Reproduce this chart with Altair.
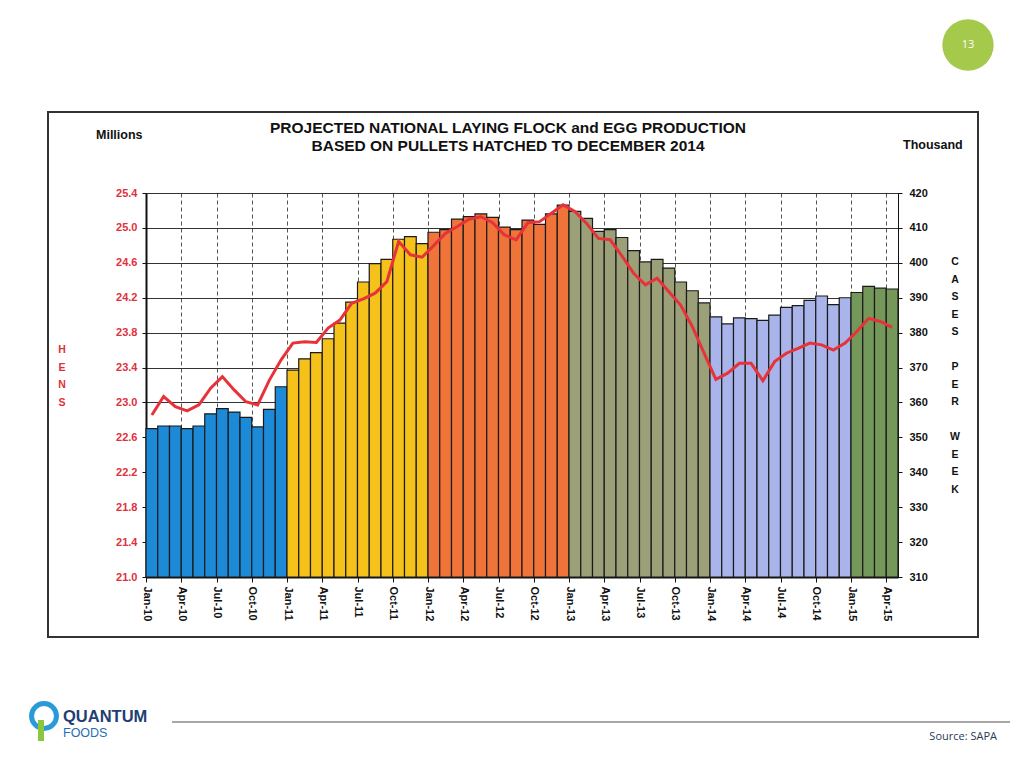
import json
import altair as alt
import pandas as pd

# ---------------- data ----------------
tick_labels = ["Jan-10", "Apr-10", "Jul-10", "Oct-10", "Jan-11", "Apr-11", "Jul-11", "Oct-11",
               "Jan-12", "Apr-12", "Jul-12", "Oct-12", "Jan-13", "Apr-13", "Jul-13", "Oct-13",
               "Jan-14", "Apr-14", "Jul-14", "Oct-14", "Jan-15", "Apr-15"]

hens = [22.70, 22.73, 22.73, 22.70, 22.73, 22.87, 22.93, 22.89, 22.83, 22.72, 22.92, 23.18,
        23.37, 23.50, 23.57, 23.73, 23.91, 24.15, 24.38, 24.59, 24.64, 24.87, 24.90, 24.82,
        24.95, 24.98, 25.10, 25.13, 25.16, 25.12, 25.01, 24.98, 25.09, 25.04, 25.16, 25.26,
        25.19, 25.11, 24.96, 24.98, 24.89, 24.74, 24.61, 24.64, 24.54, 24.38, 24.28, 24.14,
        23.98, 23.90, 23.97, 23.96, 23.94, 24.00, 24.09, 24.11, 24.17, 24.22, 24.12, 24.20,
        24.26, 24.33, 24.31, 24.30]

cases = [356.4, 361.7, 358.8, 357.6, 359.3, 364.1, 367.4, 363.6, 360.2, 359.3, 366.4, 372.2,
         377.0, 377.4, 377.2, 381.3, 383.6, 388.4, 389.7, 391.3, 394.6, 406.1, 402.3, 401.6,
         405.0, 408.5, 410.4, 412.5, 413.2, 411.5, 408.0, 406.6, 411.5, 411.8, 414.2, 416.6,
         414.7, 411.3, 407.0, 406.6, 402.0, 397.0, 393.7, 395.6, 391.7, 387.9, 381.7, 374.1,
         366.6, 368.4, 371.2, 371.2, 366.2, 371.7, 374.1, 375.5, 377.0, 376.5, 375.0, 377.0,
         380.3, 384.1, 383.2, 381.5]

years = [2010, 2011, 2012, 2013, 2014, 2015]
year_colors = ["#1c8ad6", "#f5c21b", "#f0743a", "#9ba078", "#a9b4ea", "#74975a"]

HENS_MIN = 21.0

df = pd.DataFrame({
    "i": list(range(len(hens))),
    "hens": hens,
    "cases": cases,
})
df["i2"] = df["i"] + 1
df["ic"] = df["i"] + 0.5
df["base"] = HENS_MIN
df["year"] = 2010 + df["i"] // 12

label_expr = json.dumps(tick_labels) + "[round(datum.value/3)]"

FONT = "Liberation Sans"

x_scale = alt.Scale(domain=[0, 64], nice=False, zero=False)
x_axis = alt.Axis(values=list(range(0, 64, 3)), labelExpr=label_expr, title=None,
                  labelAngle=90, labelAlign="left", labelBaseline="middle",
                  labelFont=FONT, labelFontWeight="bold", labelFontSize=11,
                  labelColor="#111", labelPadding=4, tickSize=5, tickColor="#111",
                  domainColor="#111", domainWidth=2, labelOverlap=False,
                  grid=True, gridColor="#555", gridDash=[4, 3], gridWidth=1)

bars = alt.Chart(df).mark_bar(stroke="#1a1a1a", strokeWidth=1.2).encode(
    x=alt.X("i:Q", scale=x_scale, axis=x_axis),
    x2="i2:Q",
    y=alt.Y("hens:Q", scale=alt.Scale(domain=[HENS_MIN, 25.4], nice=False, zero=False),
            axis=alt.Axis(values=[21.0 + 0.4 * k for k in range(12)], format=".1f", title=None,
                          orient="left", labelFont=FONT, labelFontWeight="bold", labelFontSize=11,
                          labelColor="#e0303c", labelPadding=5, tickSize=4, tickColor="#111",
                          domainColor="#111", domainWidth=2,
                          grid=True, gridColor="#333", gridWidth=1)),
    y2="base:Q",
    color=alt.Color("year:O", scale=alt.Scale(domain=years, range=year_colors), legend=None),
)

line = alt.Chart(df).mark_line(color="#e8323a", strokeWidth=3).encode(
    x=alt.X("ic:Q", scale=x_scale, axis=x_axis),
    y=alt.Y("cases:Q", scale=alt.Scale(domain=[310, 420], nice=False, zero=False),
            axis=alt.Axis(values=list(range(310, 421, 10)), title=None, orient="right",
                          labelFont=FONT, labelFontWeight="bold", labelFontSize=11,
                          labelColor="#111", labelPadding=7, tickSize=4, tickColor="#111",
                          domainColor="#111", domainWidth=1, grid=False)),
)

one = alt.Data(values=[{}])


def txt(text, x, y, **kw):
    return alt.Chart(one).mark_text(**kw).encode(
        x=alt.value(x), y=alt.value(y), text=alt.value(text))


side = dict(font=FONT, fontWeight="bold", fontSize=10.5, align="center", baseline="top",
            lineHeight=17.5)

deco = [
    # frame of the scanned chart
    alt.Chart(one).mark_rect(fill=None, stroke="#333", strokeWidth=2).encode(
        x=alt.value(-98), x2=alt.value(832), y=alt.value(-81), y2=alt.value(444)),
    txt("PROJECTED NATIONAL LAYING FLOCK and EGG PRODUCTION", 362, -65,
        font=FONT, fontWeight="bold", fontSize=15.5, color="#111", align="center", baseline="middle"),
    txt("BASED ON PULLETS HATCHED TO DECEMBER 2014", 362, -47,
        font=FONT, fontWeight="bold", fontSize=15.5, color="#111", align="center", baseline="middle"),
    txt("Millions", -50, -58, font=FONT, fontWeight="bold", fontSize=12.5, color="#111",
        align="left", baseline="middle"),
    txt("Thousand", 757, -48, font=FONT, fontWeight="bold", fontSize=12.5, color="#111",
        align="left", baseline="middle"),
    txt(["H", "E", "N", "S"], -84, 152, color="#e0303c", **side),
    txt(["C", "A", "S", "E", "S"], 809, 64, color="#111", **side),
    txt(["P", "E", "R"], 809, 64 + 6 * 17.5, color="#111", **side),
    txt(["W", "E", "E", "K"], 809, 64 + 10 * 17.5, color="#111", **side),
    # slide decorations
    alt.Chart(one).mark_point(shape="circle", filled=True, color="#a5c94b", size=2640, opacity=1).encode(
        x=alt.value(822), y=alt.value(-148)),
    txt("13", 822, -148, font="Open Sans", fontSize=11, color="white", align="center", baseline="middle"),
    alt.Chart(one).mark_rule(color="#8a8a8a", strokeWidth=1.5).encode(
        x=alt.value(26), x2=alt.value(864), y=alt.value(529)),
    txt("Source: SAPA", 851, 544, font="Open Sans", fontSize=11, color="#2b3a55",
        align="right", baseline="middle"),
    alt.Chart(one).mark_point(shape="circle", filled=False, color="#2a9ad8", size=620,
                               strokeWidth=5, opacity=1).encode(x=alt.value(-102), y=alt.value(523)),
    alt.Chart(one).mark_rect(color="#8cc63f").encode(
        x=alt.value(-108), x2=alt.value(-102), y=alt.value(527), y2=alt.value(548)),
    txt("QUANTUM", -83, 524, font=FONT, fontWeight="bold", fontSize=16.5, color="#1f3f73",
        align="left", baseline="middle"),
    txt("FOODS", -83, 540, font=FONT, fontSize=12.5, color="#1f6fb5", align="left", baseline="middle"),
]

chart = alt.layer(bars, line, *deco).resolve_scale(y="independent").properties(
    width=752, height=384,
    autosize="none",
    padding={"left": 138, "top": 185, "right": 118, "bottom": 171},
    background="white",
).configure_view(stroke="#111", strokeWidth=1)

chart.save("out.html", embed_options={"renderer": "svg", "actions": False})
